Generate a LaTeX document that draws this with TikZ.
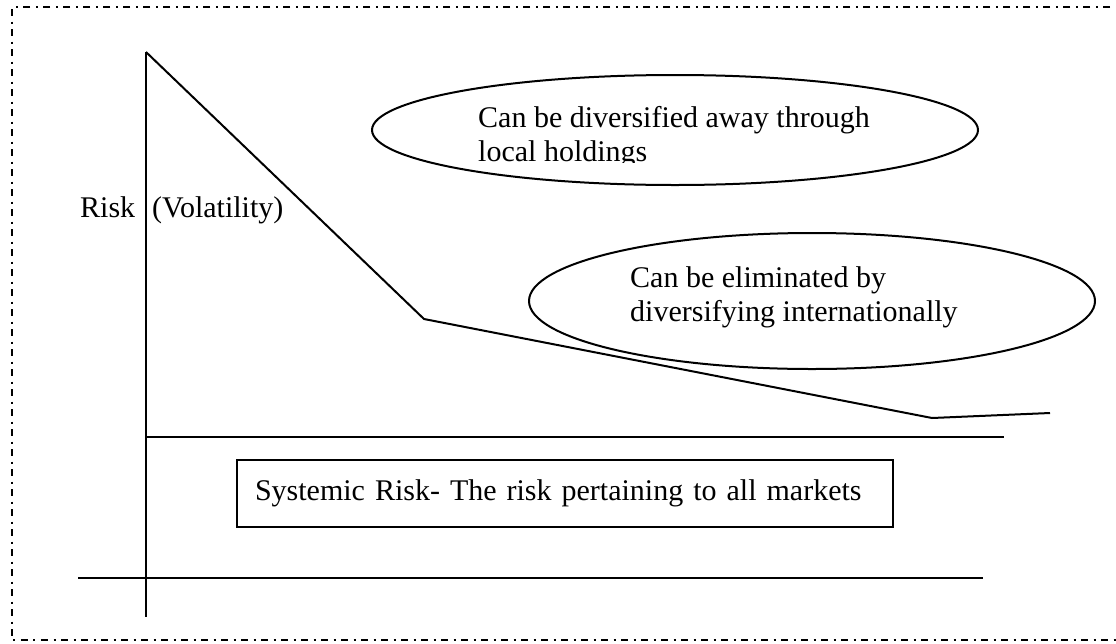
\documentclass[tikz,border=0pt]{standalone}
\usepackage{fontspec}
\setmainfont{Liberation Serif}
\usetikzlibrary{shapes.geometric}

\begin{document}
\begin{tikzpicture}[x=1pt,y=-1pt]

	\tikzset{plain/.style = {line width=2pt}}
	\tikzset{frame/.style = {line width=2pt, dash pattern=on 7pt off 5.5pt on 2pt off 5.5pt}}
	\tikzset{bubble/.style = {shape=ellipse,draw,line width=2pt,inner sep=0pt}}
	\tikzset{words/.style = {font=\fontsize{30}{33.5}\selectfont,inner sep=0pt,align=left}}
	\tikzset{sysbox/.style = {words,draw,line width=2pt,minimum height=67pt,text width=620pt,inner xsep=18pt}}

	\useasboundingbox (0,0) rectangle (1116,643);

	% dash-dot frame, right side runs off the page
	\coordinate (ftr) at (1130,7);
	\coordinate (ftl) at (12,7);
	\coordinate (fbl) at (12,640);
	\coordinate (fbr) at (1130,640);
	\draw[frame] (ftr) -- (ftl) -- (fbl) -- (fbr);

	% axes
	\coordinate (axtop) at (146,52);
	\coordinate (axbot) at (146,617);
	\coordinate (upl) at (146,437);
	\coordinate (upr) at (1004,437);
	\coordinate (lol) at (78,578);
	\coordinate (lor) at (983,578);
	\draw[plain] (axtop) -- (axbot);
	\draw[plain] (upl) -- (upr);
	\draw[plain] (lol) -- (lor);

	% risk curve
	\coordinate (knee) at (424,319);
	\coordinate (low) at (932,418);
	\coordinate (tail) at (1050,413);
	\draw[plain] (axtop) -- (knee) -- (low) -- (tail);

	\node[words,anchor=base west] (risk) at (80,217) {Risk};
	\node[words,anchor=base west] (vol) at (152,217) {(Volatility)};

	% the two bubbles
	\node[bubble,minimum width=606pt,minimum height=110pt] (local) at (675,130) {};
	\begin{scope}
		\clip (470,95) rectangle (900,162);
		\node[words,anchor=north west] (localtxt) at (478,106.5) {Can be diversified away through\\local holdings};
	\end{scope}

	\node[bubble,minimum width=566pt,minimum height=136pt] (intl) at (812,301) {};
	\node[words,anchor=north west] (intltxt) at (630,266.5) {Can be eliminated by\\diversifying internationally};

	\node[sysbox,anchor=north west] (systemic) at (236,459) {Systemic Risk- The risk pertaining to all markets};

\end{tikzpicture}
\end{document}
